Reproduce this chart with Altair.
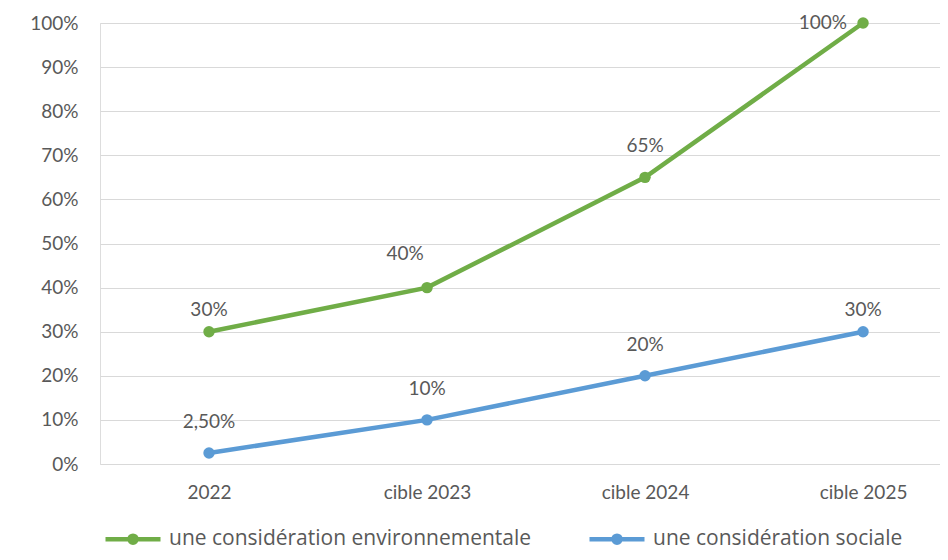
import altair as alt
import pandas as pd

categories = ["2022", "cible 2023", "cible 2024", "cible 2025"]
env_values = [0.30, 0.40, 0.65, 1.00]
soc_values = [0.025, 0.10, 0.20, 0.30]
env_labels = ["30%", "40%", "65%", "100%"]
soc_labels = ["2,50%", "10%", "20%", "30%"]
series_names = ["une considération environnementale", "une considération sociale"]
colors = ["#70AD47", "#5B9BD5"]

rows = []
for i, c in enumerate(categories):
    rows.append({"cat": c, "val": env_values[i], "lab": env_labels[i], "serie": series_names[0], "idx": i})
for i, c in enumerate(categories):
    rows.append({"cat": c, "val": soc_values[i], "lab": soc_labels[i], "serie": series_names[1], "idx": i})
df = pd.DataFrame(rows)

FONT = "Lato"
GREY = "#595959"
label_expr = "[" + ",".join(f"'{c}'" for c in categories) + "][datum.value]"

x = alt.X("idx:Q", scale=alt.Scale(domain=[-0.5, 3.353], nice=False, zero=False),
          axis=alt.Axis(title=None, values=[0, 1, 2, 3], labelExpr=label_expr, ticks=False,
                        domain=False, grid=False, labelFontSize=19, labelColor=GREY,
                        labelFont=FONT, labelPadding=19, labelFlush=False))
y = alt.Y("val:Q", scale=alt.Scale(domain=[0, 1]),
          axis=alt.Axis(title=None, format=".0%", values=[i / 10 for i in range(11)],
                        ticks=False, domain=False, gridColor="#D9D9D9", gridWidth=1.2,
                        labelFontSize=19, labelColor=GREY, labelFont=FONT, labelPadding=22))
color_scale = alt.Scale(domain=series_names, range=colors)
color = alt.Color("serie:N", scale=color_scale,
                  legend=alt.Legend(title=None, orient="none", direction="horizontal",
                                    legendX=3, legendY=486,
                                    symbolType="M-1,0L1,0M0.13,0A0.13,0.13,0,1,1,-0.13,0A0.13,0.13,0,1,1,0.13,0Z",
                                    symbolSize=3025, symbolStrokeWidth=4.5, symbolOpacity=1,
                                    labelFontSize=21, labelColor=GREY, labelFont="Open Sans",
                                    labelOffset=6, columnPadding=48, labelLimit=500))

base = alt.Chart(df)
line = base.mark_line(strokeWidth=4.5).encode(x=x, y=y, color=color)
pts = base.mark_circle(size=130, opacity=1).encode(
    x=x, y=y, color=alt.Color("serie:N", scale=color_scale, legend=None))

tstyle = dict(fontSize=19, color=GREY, font=FONT, baseline="middle")
is_env = f"datum.serie == '{series_names[0]}'"
t_high = base.mark_text(dy=-22, **tstyle).encode(x=x, y="val:Q", text="lab:N").transform_filter(
    f"({is_env} && datum.idx == 0) || (!({is_env}) && (datum.idx == 3))")
t_mid = base.mark_text(dy=-31, **tstyle).encode(x=x, y="val:Q", text="lab:N").transform_filter(
    f"({is_env} && datum.idx == 2) || (!({is_env}) && datum.idx <= 2)")
t_left = base.mark_text(dy=-34, dx=-22, **tstyle).encode(x=x, y="val:Q", text="lab:N").transform_filter(
    f"{is_env} && datum.idx == 1")
t_side = base.mark_text(dx=-16, align="right", **tstyle).encode(x=x, y="val:Q", text="lab:N").transform_filter(
    f"{is_env} && datum.idx == 3")

chart = alt.layer(line, pts, t_high, t_mid, t_left, t_side).properties(
    width=840, height=441,
    autosize=alt.AutoSizeParams(type="none"),
    padding={"left": 92, "top": 15, "right": 0, "bottom": 88},
).configure_view(stroke=None).configure(background="white")

chart.save("out.html", embed_options={"renderer": "svg", "actions": False})
